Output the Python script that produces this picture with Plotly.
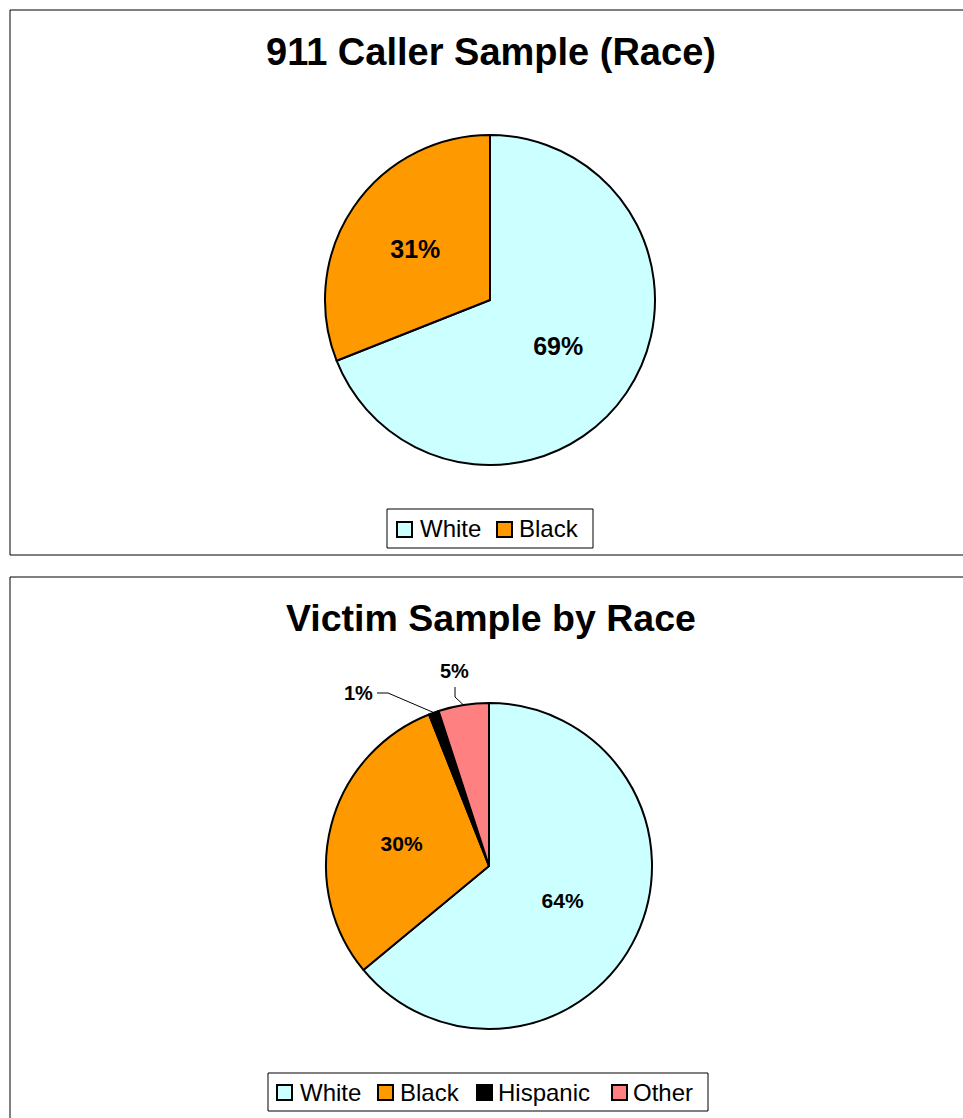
import math
import plotly.graph_objects as go

W, H = 963, 1118

caller_labels = ["White", "Black"]
caller_values = [69, 31]
caller_colors = ["#CCFFFF", "#FF9900"]

victim_labels = ["White", "Black", "Hispanic", "Other"]
victim_values = [64, 30, 1, 5]
victim_colors = ["#CCFFFF", "#FF9900", "#000000", "#FF8080"]

title_top = "911 Caller Sample (Race)"
title_bottom = "Victim Sample by Race"

FONT = "Liberation Sans, Arial, sans-serif"


def fx(x):
    return x / W


def fy(y):
    return 1 - y / H


# pie geometry (pixels)
TOP_C, TOP_R = (490, 300), 165
BOT_C, BOT_R = (489, 866), 163

fig = go.Figure()

fig.add_trace(go.Pie(
    labels=caller_labels, values=caller_values,
    marker=dict(colors=caller_colors, line=dict(color="black", width=2)),
    sort=False, direction="clockwise", rotation=0,
    texttemplate="<b>%{percent:.0%}</b>",
    textposition="inside", insidetextorientation="horizontal",
    textfont=dict(family=FONT, size=25, color="black"),
    domain=dict(x=[fx(TOP_C[0] - TOP_R), fx(TOP_C[0] + TOP_R)],
                y=[fy(TOP_C[1] + TOP_R), fy(TOP_C[1] - TOP_R)]),
    showlegend=False, hoverinfo="label+percent",
))

small = [v / sum(victim_values) < 0.02 or v / sum(victim_values) < 0.06 and i >= 2
         for i, v in enumerate(victim_values)]
fig.add_trace(go.Pie(
    labels=victim_labels, values=victim_values,
    marker=dict(colors=victim_colors, line=dict(color="black", width=2)),
    sort=False, direction="clockwise", rotation=0,
    texttemplate=["" if s else "<b>%{percent:.0%}</b>" for s in small],
    textposition="inside", insidetextorientation="horizontal",
    textfont=dict(family=FONT, size=21, color="black"),
    domain=dict(x=[fx(BOT_C[0] - BOT_R), fx(BOT_C[0] + BOT_R)],
                y=[fy(BOT_C[1] + BOT_R), fy(BOT_C[1] - BOT_R)]),
    showlegend=False, hoverinfo="label+percent",
))

shapes = [
    dict(type="rect", xref="paper", yref="paper",
         x0=fx(10), x1=1.02, y0=fy(555), y1=fy(10),
         line=dict(color="black", width=1)),
    dict(type="rect", xref="paper", yref="paper",
         x0=fx(10), x1=1.02, y0=-0.02, y1=fy(577),
         line=dict(color="black", width=1)),
]

annotations = [
    dict(text="<b>" + title_top + "</b>", xref="paper", yref="paper",
         x=fx(491), y=fy(52), showarrow=False, xanchor="center", yanchor="middle",
         font=dict(family=FONT, size=38, color="black")),
    dict(text="<b>" + title_bottom + "</b>", xref="paper", yref="paper",
         x=fx(491), y=fy(618), showarrow=False, xanchor="center", yanchor="middle",
         font=dict(family=FONT, size=37.5, color="black")),
]

# outside labels with leader lines for the small victim slices
label_pos = {2: ((358, 693), [(377, 693), (388, 693)]),
             3: ((454, 671), [(455, 687), (455, 697)])}
total = sum(victim_values)
cum = 0
for i, v in enumerate(victim_values):
    mid = (cum + v / 2) / total * 2 * math.pi
    cum += v
    if i not in label_pos:
        continue
    (tx, ty), pts = label_pos[i]
    ex = BOT_C[0] + BOT_R * math.sin(mid)
    ey = BOT_C[1] - BOT_R * math.cos(mid)
    allp = pts + [(ex, ey)]
    path = "M " + " L ".join(f"{fx(x)},{fy(y)}" for x, y in allp)
    shapes.append(dict(type="path", xref="paper", yref="paper", path=path,
                       line=dict(color="black", width=1)))
    annotations.append(dict(text=f"<b>{v / total:.0%}</b>", xref="paper", yref="paper",
                            x=fx(tx), y=fy(ty), showarrow=False,
                            xanchor="center", yanchor="middle",
                            font=dict(family=FONT, size=20, color="black")))


# manual legends
def add_legend(box, labels, colors, sym_x, text_x, yc):
    x0, y0, x1, y1 = box
    shapes.append(dict(type="rect", xref="paper", yref="paper",
                       x0=fx(x0), x1=fx(x1), y0=fy(y1), y1=fy(y0),
                       line=dict(color="black", width=1), fillcolor="white"))
    for lab, col, sx, tx in zip(labels, colors, sym_x, text_x):
        shapes.append(dict(type="rect", xref="paper", yref="paper",
                           x0=fx(sx), x1=fx(sx + 15), y0=fy(yc + 8), y1=fy(yc - 7),
                           line=dict(color="black", width=2), fillcolor=col))
        annotations.append(dict(text=lab, xref="paper", yref="paper",
                                x=fx(tx), y=fy(yc), showarrow=False,
                                xanchor="left", yanchor="middle",
                                font=dict(family=FONT, size=24, color="black")))


add_legend((387, 509, 593, 548), caller_labels, caller_colors,
           [397, 497], [418, 517], 529)
add_legend((268, 1073, 708, 1111), victim_labels, victim_colors,
           [277, 378, 477, 612], [298, 398, 496, 631], 1092)

fig.update_layout(
    width=W, height=H,
    margin=dict(l=0, r=0, t=0, b=0),
    paper_bgcolor="white", plot_bgcolor="white",
    shapes=shapes, annotations=annotations,
    showlegend=False,
)

fig.write_html("out.html")
